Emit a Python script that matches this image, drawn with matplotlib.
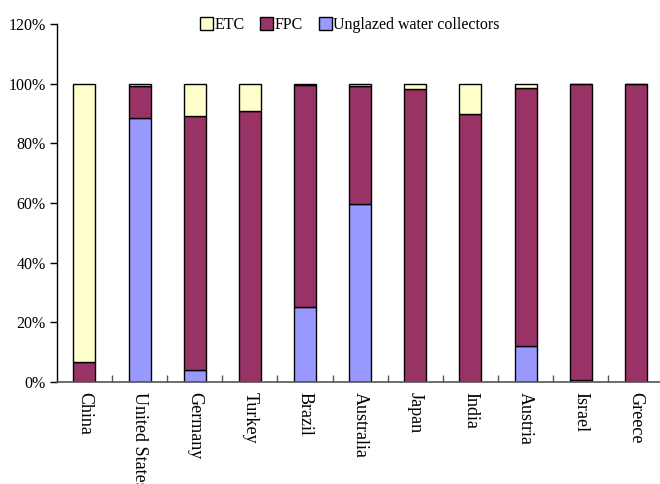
import numpy as np
import matplotlib.pyplot as plt
from matplotlib.ticker import FixedLocator, PercentFormatter

plt.rcParams['font.family'] = ['Liberation Serif', 'DejaVu Serif']

countries = ['China', 'United States', 'Germany', 'Turkey', 'Brazil', 'Australia',
             'Japan', 'India', 'Austria', 'Israel', 'Greece']
# share of installed capacity by collector type, percent
unglazed = [0.0, 88.5, 4.0, 0.0, 25.0, 59.6, 0.0, 0.0, 12.1, 0.7, 0.0]
fpc = [6.6, 10.8, 85.1, 90.8, 74.7, 39.7, 98.2, 89.8, 86.5, 99.3, 100.0]
etc = [93.4, 0.7, 10.9, 9.2, 0.3, 0.7, 1.8, 10.2, 1.4, 0.0, 0.0]

c_unglazed = '#9999FF'
c_fpc = '#993366'
c_etc = '#FFFFCC'

fig = plt.figure(figsize=(6.6, 4.84), dpi=100)
ax = fig.add_axes([0.0862, 0.211, 0.919, 0.739])

x = np.arange(len(countries))
w = 0.40
unglazed = np.array(unglazed)
fpc = np.array(fpc)
etc = np.array(etc)

ax.bar(x, unglazed, w, color=c_unglazed, edgecolor='black', linewidth=1,
       label='Unglazed water collectors')
ax.bar(x, fpc, w, bottom=unglazed, color=c_fpc, edgecolor='black', linewidth=1,
       label='FPC')
ax.bar(x, etc, w, bottom=unglazed + fpc, color=c_etc, edgecolor='black', linewidth=1,
       label='ETC')

ax.set_xlim(-0.5, len(countries) - 0.5)
ax.set_ylim(0, 120)
ax.set_yticks(np.arange(0, 121, 20))
ax.yaxis.set_major_formatter(PercentFormatter(decimals=0))
ax.tick_params(axis='y', direction='out', length=5, width=1, labelsize=11.5, pad=3)

ax.set_xticks(x)
ax.set_xticklabels(countries, rotation=270, fontsize=13)
ax.tick_params(axis='x', which='major', length=0, pad=7)
ax.xaxis.set_minor_locator(FixedLocator(np.arange(0.5, len(countries) - 0.5, 1)))
ax.tick_params(axis='x', which='minor', direction='in', length=5, width=1, color='#555555')

ax.spines['top'].set_visible(False)
ax.spines['right'].set_visible(False)
ax.spines['bottom'].set_color('#555555')
ax.spines['bottom'].set_linewidth(1.2)
ax.spines['left'].set_linewidth(1)

handles, labels = ax.get_legend_handles_labels()
ax.legend(handles[::-1], labels[::-1], loc='upper center', bbox_to_anchor=(0.483, 1.06),
          ncol=3, frameon=False, fontsize=11.5, handlelength=0.8, handleheight=0.8,
          handletextpad=0.1, columnspacing=1.0)

fig.savefig('out.png', dpi=100)
